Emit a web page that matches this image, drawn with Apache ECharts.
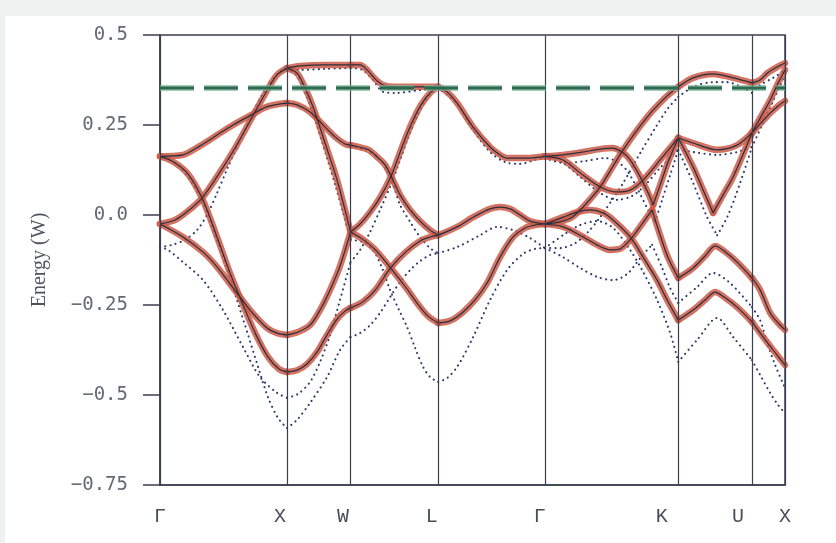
<!DOCTYPE html>
<html>
<head>
<meta charset="utf-8">
<script src="https://cdn.jsdelivr.net/npm/echarts@6/dist/echarts.min.js"></script>
<style>
  html, body { margin: 0; padding: 0; background: #eef3f1; }
  #chart { width: 836px; height: 543px; }
</style>
</head>
<body>
<div id="chart"></div>
<script>
// high symmetry points along the k path
const kPoints = [0, 1.0, 1.5, 2.19, 3.03, 4.08, 4.66, 4.92];
const kLabels = ['Γ', 'X', 'W', 'L', 'Γ', 'K', 'U', 'X'];
const labelPos = [0, 0.945, 1.44, 2.14, 2.99, 3.95, 4.55, 4.92];
const fermiLevel = 0.353;

// solid bands, [k, E] per curve, grouped by path segment
const solidGX = [
  [[0,0.163],[0.181,0.167],[0.315,0.192],[0.449,0.222],[0.575,0.25],[0.709,0.276],[0.843,0.301],[1.0,0.311]],
  [[0,-0.025],[0.118,-0.014],[0.220,0.011],[0.331,0.047],[0.472,0.119],[0.591,0.186],[0.709,0.261],[0.827,0.336],[0.921,0.389],[1.0,0.408]],
  [[0,0.163],[0.094,0.150],[0.213,0.117],[0.331,0.047],[0.449,-0.061],[0.551,-0.161],[0.654,-0.25],[0.756,-0.333],[0.850,-0.394],[0.937,-0.428],[1.0,-0.436]],
  [[0,-0.025],[0.181,-0.061],[0.339,-0.103],[0.449,-0.144],[0.606,-0.217],[0.709,-0.264],[0.843,-0.314],[0.921,-0.328],[1.0,-0.333]]
];
const solidXW = [
  [[1.0,0.408],[1.102,0.414],[1.299,0.417],[1.5,0.417]],
  [[1.0,0.408],[1.079,0.394],[1.142,0.353],[1.205,0.3],[1.299,0.2],[1.394,0.097],[1.5,-0.047]],
  [[1.0,0.311],[1.079,0.306],[1.181,0.286],[1.276,0.253],[1.378,0.217],[1.457,0.197],[1.5,0.194]],
  [[1.0,-0.333],[1.087,-0.325],[1.181,-0.306],[1.260,-0.264],[1.339,-0.208],[1.417,-0.142],[1.5,-0.047]],
  [[1.0,-0.436],[1.079,-0.431],[1.157,-0.414],[1.236,-0.381],[1.315,-0.333],[1.394,-0.289],[1.457,-0.267],[1.5,-0.258]]
];
const solidWL = [
  [[1.5,0.417],[1.575,0.417],[1.63,0.403],[1.693,0.378],[1.756,0.361],[1.85,0.356],[2.047,0.356],[2.19,0.356]],
  [[1.5,-0.047],[1.575,-0.025],[1.654,0.008],[1.740,0.053],[1.819,0.108],[1.882,0.167],[1.945,0.225],[2.0,0.269],[2.055,0.306],[2.126,0.339],[2.19,0.356]],
  [[1.5,0.194],[1.563,0.189],[1.642,0.181],[1.72,0.158],[1.772,0.139],[1.819,0.108],[1.890,0.056],[1.969,0.014],[2.047,-0.017],[2.126,-0.042],[2.19,-0.056]],
  [[1.5,-0.047],[1.594,-0.067],[1.696,-0.097],[1.815,-0.147],[1.933,-0.2],[2.035,-0.25],[2.11,-0.281],[2.19,-0.3]],
  [[1.5,-0.258],[1.594,-0.242],[1.696,-0.208],[1.815,-0.147],[1.933,-0.103],[2.047,-0.072],[2.126,-0.061],[2.19,-0.056]]
];
const solidLG = [
  [[2.19,0.356],[2.26,0.342],[2.339,0.311],[2.465,0.244],[2.598,0.189],[2.677,0.167],[2.732,0.158],[2.89,0.158],[3.03,0.163]],
  [[2.19,-0.056],[2.339,-0.033],[2.465,-0.006],[2.598,0.017],[2.677,0.022],[2.756,0.017],[2.835,0],[2.913,-0.017],[3.03,-0.025]],
  [[2.19,-0.3],[2.283,-0.294],[2.378,-0.272],[2.480,-0.236],[2.575,-0.189],[2.677,-0.117],[2.772,-0.064],[2.874,-0.036],[2.953,-0.028],[3.03,-0.025]]
];
const solidGK = [
  [[3.03,0.163],[3.173,0.167],[3.331,0.175],[3.465,0.183],[3.559,0.186],[3.638,0.175],[3.701,0.153],[3.780,0.106],[3.843,0.061],[3.882,0.028]],
  [[3.882,0.028],[3.937,0.083],[4.0,0.147],[4.08,0.214]],
  [[3.03,0.163],[3.173,0.153],[3.307,0.117],[3.465,0.078],[3.598,0.064],[3.701,0.069],[3.803,0.097],[3.937,0.153],[4.08,0.214]],
  [[3.03,-0.025],[3.15,-0.019],[3.244,-0.006],[3.346,0.028],[3.465,0.078],[3.646,0.181],[3.835,0.272],[3.984,0.328],[4.08,0.356]],
  [[3.03,-0.025],[3.173,-0.006],[3.283,0.008],[3.386,0.014],[3.488,0.006],[3.567,-0.014],[3.701,-0.061],[3.803,-0.117],[3.913,-0.181],[3.992,-0.236],[4.08,-0.292]],
  [[3.03,-0.025],[3.173,-0.033],[3.307,-0.056],[3.441,-0.083],[3.543,-0.097],[3.622,-0.094],[3.701,-0.069],[3.795,-0.025],[3.874,0.014]],
  [[3.874,0.014],[3.937,-0.056],[4.0,-0.119],[4.08,-0.175]]
];
const solidKU = [
  [[4.08,0.356],[4.197,0.381],[4.354,0.392],[4.512,0.381],[4.66,0.367]],
  [[4.08,0.214],[4.197,0.2],[4.386,0.181],[4.543,0.194],[4.66,0.228]],
  [[4.08,0.214],[4.197,0.133],[4.276,0.069],[4.354,0.006]],
  [[4.354,0.006],[4.433,0.056],[4.512,0.106],[4.66,0.228]],
  [[4.08,-0.175],[4.197,-0.147],[4.291,-0.114],[4.370,-0.086],[4.441,-0.1],[4.543,-0.131],[4.66,-0.175]],
  [[4.08,-0.292],[4.197,-0.264],[4.291,-0.236],[4.370,-0.214],[4.441,-0.228],[4.543,-0.256],[4.66,-0.297]]
];
const solidUX = [
  [[4.66,0.367],[4.724,0.375],[4.78,0.394],[4.858,0.411],[4.92,0.422]],
  [[4.66,0.228],[4.724,0.269],[4.803,0.319],[4.866,0.367],[4.92,0.403]],
  [[4.66,0.228],[4.724,0.253],[4.803,0.283],[4.866,0.303],[4.92,0.317]],
  [[4.66,-0.175],[4.724,-0.208],[4.803,-0.272],[4.866,-0.3],[4.92,-0.319]],
  [[4.66,-0.297],[4.748,-0.339],[4.827,-0.375],[4.92,-0.417]]
];

// dotted bands (second calculation)
const dotGX = [
  [[0,-0.089],[0.094,-0.083],[0.197,-0.069],[0.291,-0.042],[0.370,0],[0.449,0.061],[0.535,0.133],[0.630,0.208],[0.724,0.281],[0.827,0.347],[0.921,0.392],[1.0,0.408]],
  [[0,0.163],[0.118,0.144],[0.236,0.097],[0.339,0.033],[0.433,-0.056],[0.520,-0.139],[0.606,-0.236],[0.693,-0.333],[0.772,-0.422],[0.850,-0.506],[0.929,-0.564],[1.0,-0.592]],
  [[0,-0.089],[0.063,-0.097],[0.181,-0.131],[0.339,-0.181],[0.496,-0.264],[0.654,-0.367],[0.787,-0.45],[0.921,-0.494],[1.0,-0.508]]
];
const dotXW = [
  [[1.0,0.408],[1.102,0.403],[1.299,0.406],[1.5,0.408]],
  [[1.0,0.408],[1.087,0.383],[1.157,0.328],[1.228,0.256],[1.315,0.158],[1.386,0.075],[1.441,0.006],[1.5,-0.069]],
  [[1.0,-0.508],[1.087,-0.497],[1.181,-0.464],[1.260,-0.408],[1.339,-0.333],[1.417,-0.236],[1.5,-0.131]],
  [[1.0,-0.592],[1.079,-0.569],[1.181,-0.522],[1.315,-0.45],[1.417,-0.375],[1.5,-0.339]]
];
const dotWL = [
  [[1.5,0.408],[1.594,0.403],[1.677,0.375],[1.756,0.342],[1.850,0.339],[2.047,0.347],[2.19,0.353]],
  [[1.5,-0.131],[1.575,-0.097],[1.654,-0.047],[1.732,0.014],[1.827,0.092],[1.89,0.153],[1.953,0.214],[2.016,0.269],[2.079,0.311],[2.134,0.339],[2.19,0.353]],
  [[1.5,0.189],[1.618,0.181],[1.72,0.158],[1.783,0.125],[1.839,0.081],[1.89,0.028],[1.969,-0.019],[2.047,-0.061],[2.126,-0.092],[2.19,-0.106]],
  [[1.5,-0.069],[1.594,-0.075],[1.677,-0.097],[1.748,-0.147],[1.811,-0.208],[1.882,-0.264],[1.945,-0.311],[2.008,-0.369],[2.071,-0.422],[2.126,-0.45],[2.19,-0.464]],
  [[1.5,-0.339],[1.575,-0.328],[1.654,-0.306],[1.732,-0.272],[1.811,-0.228],[1.890,-0.186],[1.969,-0.153],[2.047,-0.128],[2.126,-0.111],[2.19,-0.106]]
];
const dotLG = [
  [[2.19,0.353],[2.339,0.308],[2.465,0.236],[2.598,0.175],[2.717,0.147],[2.835,0.142],[2.953,0.153],[3.03,0.158]],
  [[2.19,-0.106],[2.339,-0.089],[2.52,-0.056],[2.654,-0.033],[2.78,-0.042],[2.913,-0.064],[3.03,-0.092]],
  [[2.19,-0.464],[2.26,-0.453],[2.339,-0.422],[2.465,-0.339],[2.598,-0.236],[2.732,-0.153],[2.858,-0.108],[2.953,-0.094],[3.03,-0.092]]
];
const dotGK = [
  [[3.03,0.158],[3.189,0.144],[3.346,0.15],[3.504,0.158],[3.606,0.147],[3.685,0.119],[3.764,0.069],[3.843,0.014],[3.898,-0.019]],
  [[3.898,-0.019],[3.953,0.042],[4.016,0.111],[4.08,0.181]],
  [[3.03,0.158],[3.173,0.144],[3.307,0.106],[3.465,0.061],[3.598,0.042],[3.717,0.053],[3.819,0.083],[3.937,0.131],[4.08,0.181]],
  [[3.03,-0.092],[3.15,-0.092],[3.268,-0.078],[3.37,-0.047],[3.465,-0.006],[3.559,0.042],[3.646,0.089],[3.78,0.172],[3.913,0.25],[4.0,0.297],[4.08,0.328]],
  [[3.03,-0.092],[3.173,-0.056],[3.307,-0.028],[3.441,-0.017],[3.567,-0.036],[3.701,-0.097],[3.803,-0.158],[3.913,-0.236],[4.016,-0.328],[4.08,-0.408]],
  [[3.03,-0.092],[3.173,-0.117],[3.307,-0.147],[3.441,-0.172],[3.567,-0.181],[3.677,-0.164],[3.756,-0.131],[3.835,-0.097],[3.874,-0.083]],
  [[3.874,-0.083],[3.953,-0.147],[4.016,-0.203],[4.08,-0.244]]
];
const dotKU = [
  [[4.08,0.328],[4.197,0.356],[4.354,0.369],[4.465,0.369],[4.591,0.353],[4.66,0.339]],
  [[4.08,0.181],[4.197,0.175],[4.386,0.167],[4.543,0.175],[4.66,0.189]],
  [[4.08,0.181],[4.197,0.089],[4.307,-0.006],[4.386,-0.056]],
  [[4.386,-0.056],[4.465,-0.006],[4.567,0.089],[4.66,0.189]],
  [[4.08,-0.244],[4.228,-0.2],[4.354,-0.161],[4.488,-0.189],[4.66,-0.256]],
  [[4.08,-0.408],[4.228,-0.347],[4.386,-0.286],[4.512,-0.339],[4.66,-0.403]]
];
const dotUX = [
  [[4.66,0.339],[4.724,0.361],[4.827,0.381],[4.92,0.403]],
  [[4.66,0.189],[4.74,0.25],[4.819,0.311],[4.92,0.389]],
  [[4.66,-0.256],[4.724,-0.292],[4.78,-0.356],[4.843,-0.417],[4.92,-0.481]],
  [[4.66,-0.403],[4.724,-0.444],[4.803,-0.494],[4.866,-0.528],[4.92,-0.55]]
];

const solidCurves = [solidGX, solidXW, solidWL, solidLG, solidGK, solidKU, solidUX].flat();
const dottedCurves = [dotGX, dotXW, dotWL, dotLG, dotGK, dotKU, dotUX].flat();

const series = [];

// vertical lines at the symmetry points
series.push({
  type: 'line', data: [], silent: true, z: 1,
  markLine: {
    silent: true, symbol: ['none', 'none'], animation: false,
    label: { show: false },
    lineStyle: { color: '#3a3f4f', width: 1.2, type: 'solid' },
    data: kPoints.map(k => ({ xAxis: k }))
  }
});

dottedCurves.forEach(c => series.push({
  type: 'line', data: c, smooth: 0.3, symbol: 'none', silent: true, z: 2,
  lineStyle: { color: '#2d3b6b', width: 2.1, type: [0.1, 5.2], cap: 'round' }
}));

solidCurves.forEach(c => series.push({
  type: 'line', data: c, smooth: 0.3, symbol: 'none', silent: true, z: 3,
  lineStyle: { color: '#cc5b48', width: 6.5, opacity: 0.85, cap: 'round' }
}));
solidCurves.forEach(c => series.push({
  type: 'line', data: c, smooth: 0.3, symbol: 'none', silent: true, z: 4,
  lineStyle: { color: '#2a2f3d', width: 1.2 }
}));

// fermi level, green dashed
const fermiLine = [[0, fermiLevel], [kPoints[kPoints.length - 1], fermiLevel]];
series.push({
  type: 'line', data: fermiLine, symbol: 'none', silent: true, z: 5,
  lineStyle: { color: '#7db49a', width: 6, opacity: 0.7, type: [34, 10] }
});
series.push({
  type: 'line', data: fermiLine, symbol: 'none', silent: true, z: 6,
  lineStyle: { color: '#2c6a50', width: 3, type: [34, 10] }
});

const chart = echarts.init(document.getElementById('chart'), null, { renderer: 'canvas' });
chart.setOption({
  animation: false,
  backgroundColor: '#eef3f1',
  graphic: [{
    type: 'rect', left: 5, top: 16, z: -10,
    shape: { width: 831, height: 527 },
    style: { fill: '#ffffff' }
  }],
  grid: {
    left: 160, right: 51, top: 35, bottom: 58,
    show: true, borderColor: '#3a3f4f', borderWidth: 1.5, backgroundColor: '#ffffff'
  },
  xAxis: {
    type: 'value', min: 0, max: kPoints[kPoints.length - 1],
    axisLine: { show: true, onZero: false, lineStyle: { color: '#3a3f4f', width: 1.5 } },
    axisTick: { show: false },
    splitLine: { show: false },
    axisLabel: {
      customValues: labelPos,
      formatter: v => kLabels[labelPos.indexOf(v)],
      margin: 22,
      fontFamily: 'Liberation Mono', fontSize: 20, color: '#4a4e5a'
    }
  },
  yAxis: {
    type: 'value', min: -0.75, max: 0.5, interval: 0.25,
    name: 'Energy (W)', nameLocation: 'middle', nameGap: 110, nameRotate: 90,
    nameTextStyle: { fontFamily: 'Liberation Serif', fontSize: 20, color: '#4f5360' },
    axisLine: { show: true, onZero: false, lineStyle: { color: '#3a3f4f', width: 1.5 } },
    axisTick: { show: true, inside: false, length: 17, lineStyle: { color: '#3a3f4f', width: 1.5 } },
    splitLine: { show: false },
    axisLabel: {
      margin: 32,
      formatter: v => v === 0 ? '0.0' : (v < 0 ? '\u2212' : '') + Math.abs(v),
      fontFamily: 'DejaVu Sans Mono', fontSize: 19, color: '#656975'
    }
  },
  series: series
});
</script>
</body>
</html>
